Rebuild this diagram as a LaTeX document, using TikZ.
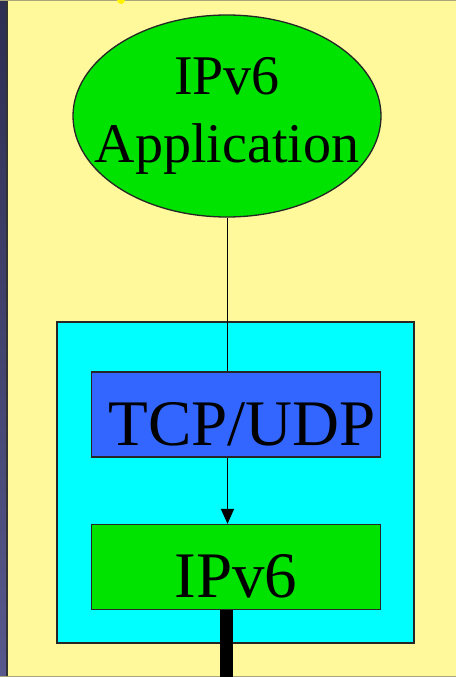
\documentclass[tikz,border=0pt]{standalone}
\usepackage{fontspec}
\setmainfont{Liberation Serif}
\usetikzlibrary{shapes.geometric,arrows.meta}
\definecolor{bgyellow}{RGB}{255,249,155}
\definecolor{appgreen}{RGB}{0,226,0}
\definecolor{stackcyan}{RGB}{0,255,255}
\definecolor{tcpblue}{RGB}{51,102,255}
\definecolor{stripdark}{RGB}{46,46,82}
\definecolor{striplight}{RGB}{88,88,140}
\definecolor{edgeolive}{RGB}{168,166,120}
\tikzset{
  outline/.style={draw=black!85, line width=1.3pt},
  appnode/.style={ellipse, outline, fill=appgreen, minimum width=308pt, minimum height=202pt, inner xsep=-24pt, inner ysep=0pt, align=center, font=\fontsize{56}{68}\selectfont},
  layerbox/.style={rectangle, outline, minimum width=289pt, minimum height=85pt, inner sep=0pt, font=\fontsize{65}{70}\selectfont, text height=73pt, text depth=12pt},
  stackbox/.style={rectangle, outline, fill=stackcyan, minimum width=357pt, minimum height=321pt, inner sep=0pt},
  flow/.style={draw=black, line width=1.6pt, -{Triangle[length=15pt,width=13pt]}},
  wire/.style={draw=black, line width=13pt}
}
\begin{document}
\begin{tikzpicture}[x=1pt,y=-1pt]
\useasboundingbox (0,0) rectangle (456,677);
\fill[bgyellow] (0,0) rectangle (456,677);
\shade[top color=stripdark, bottom color=striplight] (0,0) rectangle (7,677);
\fill[black!80] (6,0) rectangle (8,677);
\fill[edgeolive] (0,0) rectangle (456,1.5);
\fill[edgeolive] (0,675.5) rectangle (456,677);
\fill[yellow] (121,0) circle (4);
\node[stackbox] (stack) at (235.5,482.5) {};
\node[appnode] (app) at (227,116) {IPv6\\Application};
\node[layerbox, fill=appgreen] (ip) at (236,567) {IPv6};
\draw[flow] (app.south -| 227.5,0) -- (ip.north -| 227.5,0);
\node[layerbox, fill=tcpblue, inner xsep=0pt] (tcp) at (236,414.5) {\hspace*{12pt}TCP/UDP};
\coordinate (out) at (226.5,680);
\draw[wire] (ip.south -| out) -- (out);
\end{tikzpicture}
\end{document}
